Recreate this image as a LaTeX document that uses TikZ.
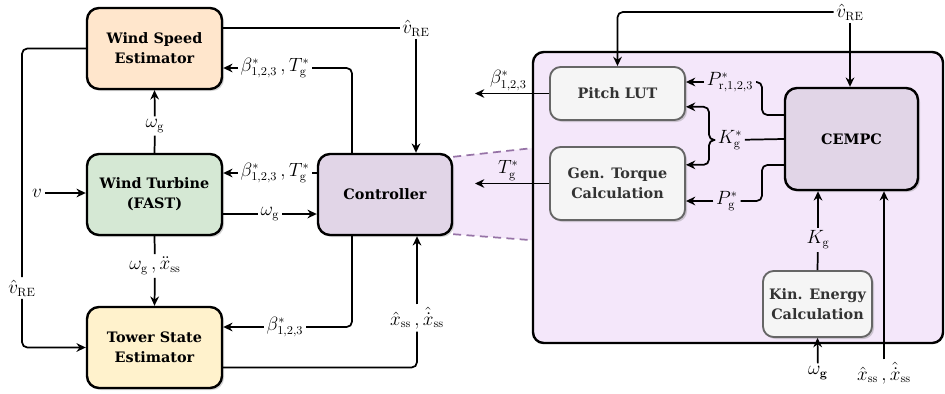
\documentclass[tikz,border=0pt]{standalone}
\usepackage[no-math]{fontspec}
\setmainfont{DejaVu Serif}
\usetikzlibrary{arrows.meta, shadows, backgrounds, positioning}

\definecolor{wseorange}{HTML}{FFE6CC}
\definecolor{wtgreen}{HTML}{D5E8D4}
\definecolor{tseyellow}{HTML}{FFF2CC}
\definecolor{ctrlpurple}{HTML}{E1D5E7}
\definecolor{panelpurple}{HTML}{F4E7FA}
\definecolor{dashpurple}{HTML}{9673A6}
\definecolor{subgray}{HTML}{F5F5F5}
\definecolor{subborder}{HTML}{666666}
\definecolor{subtext}{HTML}{333333}

\begin{document}
\begin{tikzpicture}[x=0.75pt, y=-0.75pt, >={Stealth[length=7pt, width=6.5pt]}, line width=1.3pt]
    \tikzstyle{block_style}=[rectangle, draw, rounded corners=9pt, line width=1.8pt, align=center, font=\fontsize{10.8}{15}\selectfont\bfseries, minimum width=101.25pt, minimum height=60.75pt, drop shadow={shadow xshift=1.5pt, shadow yshift=-1.5pt, opacity=0.35}]
    \tikzstyle{sub_style}=[block_style, draw=subborder, fill=subgray, text=subtext, line width=1.4pt, rounded corners=8pt]
    \tikzstyle{label_style}=[inner sep=1.5pt, font=\fontsize{13.5}{16}\selectfont]
    \tikzstyle{zoom_style}=[dashpurple, line width=1.3pt, dash pattern=on 6pt off 4pt]

    \useasboundingbox (0,0) rectangle (945,393);

    % controller panel
    \node at (738, 197.5) [rectangle, draw, rounded corners=8pt, line width=1.8pt, fill=panelpurple, minimum width=307.5pt, minimum height=218.25pt] (panel) {};

    % left blocks
    \node at (154.5, 48.5) [block_style, fill=wseorange] (wse) {Wind Speed\\Estimator};
    \node at (154.5, 194.5) [block_style, fill=wtgreen] (wt) {Wind Turbine\\(FAST)};
    \node at (154.5, 347.5) [block_style, fill=tseyellow] (tse) {Tower State\\Estimator};
    \node at (385, 194.5) [block_style, fill=ctrlpurple, minimum width=100.5pt] (ctrl) {Controller};

    % inner blocks
    \node at (617.5, 93.5) [sub_style, minimum height=39.75pt] (pitch) {Pitch LUT};
    \node at (617.5, 183.5) [sub_style, minimum height=54.75pt] (gen) {Gen. Torque\\Calculation};
    \node at (851.5, 139) [block_style, fill=ctrlpurple, minimum width=99.75pt, minimum height=76.5pt] (cempc) {CEMPC};
    \node at (817.5, 304) [sub_style, minimum width=81.75pt, minimum height=49.5pt] (kin) {Kin. Energy\\Calculation};

    % zoom from controller to panel
    \begin{scope}[on background layer]
      \fill[panelpurple] ([yshift=-3pt]ctrl.north east) -- ([yshift=37pt]panel.west) -- ([yshift=-32pt]panel.west) -- ([yshift=1.5pt]ctrl.south east) -- cycle;
      \draw[zoom_style] ([yshift=-3pt]ctrl.north east) -- ([yshift=37pt]panel.west);
      \draw[zoom_style] ([yshift=1.5pt]ctrl.south east) -- ([yshift=-32pt]panel.west);
    \end{scope}

    % labels left
    \node at (416, 28) [label_style] (vre_top) {$\hat{v}_{\mathrm{RE}}$};
    \node at (275, 68) [label_style] (bt_wse) {$\beta^{*}_{1,2,3}\,,T^{*}_{\mathrm{g}}$};
    \node at (275, 173) [label_style] (bt_wt) {$\beta^{*}_{1,2,3}\,,T^{*}_{\mathrm{g}}$};
    \node at (270, 214) [label_style] (wg_ctrl) {$\omega_{\mathrm{g}}$};
    \node at (155, 126) [label_style] (wg_up) {$\omega_{\mathrm{g}}$};
    \node at (155, 266) [label_style] (wgx) {$\omega_{\mathrm{g}}\,,\ddot{x}_{\mathrm{ss}}$};
    \node at (285, 327) [label_style] (b_tse) {$\beta^{*}_{1,2,3}$};
    \node at (417, 318) [label_style] (xss) {$\hat{x}_{\mathrm{ss}}\,,\hat{\dot{x}}_{\mathrm{ss}}$};
    \node at (22, 288) [label_style] (vre_left) {$\hat{v}_{\mathrm{RE}}$};
    \node at (37, 193) [label_style] (v_in) {$v$};

    % labels right
    \node at (850, 12) [label_style] (vre_r) {$\hat{v}_{\mathrm{RE}}$};
    \node at (730, 82) [label_style] (lbl_pr) {$P^{*}_{\mathrm{r},1,2,3}$};
    \node at (730, 140) [label_style] (lbl_kgs) {$K^{*}_{\mathrm{g}}$};
    \node at (727, 201) [label_style] (lbl_pg) {$P^{*}_{\mathrm{g}}$};
    \node at (818, 240) [label_style] (lbl_kg) {$K_{\mathrm{g}}$};
    \node at (818, 373) [label_style] (lbl_wgb) {$\omega_{\mathbf{g}}$};
    \node at (884, 373) [label_style] (lbl_xssb) {$\hat{x}_{\mathrm{ss}}\,,\hat{\dot{x}}_{\mathrm{ss}}$};

    \coordinate (ctrl_nl) at ([xshift=-24.75pt]ctrl.north);
    \coordinate (ctrl_sl) at ([xshift=-24.75pt]ctrl.south);
    \coordinate (out_x) at (475, 0);
    \coordinate (brace_x) at (709, 0);
    \coordinate (bus_x) at (762, 0);

    % connect: left loop
    \draw (wse.east |- vre_top) -- (vre_top);
    \path[->] (vre_top) edge (vre_top |- ctrl.north);
    \draw[rounded corners=4pt] (ctrl_nl) |- (bt_wse);
    \path[->] (bt_wse) edge (bt_wse -| wse.east);
    \draw (ctrl.west |- bt_wt) -- (bt_wt);
    \path[->] (bt_wt) edge (bt_wt -| wt.east);
    \draw (wt.east |- wg_ctrl) -- (wg_ctrl);
    \path[->] (wg_ctrl) edge (wg_ctrl -| ctrl.west);
    \draw (wt.north) -- (wg_up);
    \path[->] (wg_up) edge (wse.south);
    \draw (wt.south) -- (wgx);
    \path[->] (wgx) edge (tse.north);
    \draw[rounded corners=4pt] (ctrl_sl) |- (b_tse);
    \path[->] (b_tse) edge (b_tse -| tse.east);
    \draw[rounded corners=4pt] ([yshift=-15pt]tse.east) -| (xss);
    \path[->] (xss) edge (xss |- ctrl.south);
    \draw[rounded corners=4pt] (wse.west) -| (vre_left);
    \draw[->, rounded corners=4pt] (vre_left) |- (tse.west);
    \path[->] (v_in) edge (v_in -| wt.west);

    % connect: panel
    \draw[->] (pitch.west) -- (pitch.west -| out_x) node[label_style, above, pos=0.55] (lbl_bout) {$\beta^{*}_{1,2,3}$};
    \draw[->] (gen.west) -- (gen.west -| out_x) node[label_style, above, pos=0.55] (lbl_tout) {$T^{*}_{\mathrm{g}}$};
    \draw[->, rounded corners=4pt] (vre_r) -| (pitch.north);
    \path[->] (vre_r) edge (vre_r |- cempc.north);
    \draw[rounded corners=4pt] ([yshift=18pt]cempc.west) -| (bus_x |- lbl_pr) -- (lbl_pr);
    \path[->] (lbl_pr) edge (lbl_pr -| pitch.east);
    \draw (cempc.west) -- (lbl_kgs);
    \draw[->, rounded corners=4pt] (lbl_kgs.west) -- (brace_x |- lbl_kgs) |- ([yshift=-10pt]pitch.east);
    \draw[->, rounded corners=4pt] (lbl_kgs.west) -- (brace_x |- lbl_kgs) |- ([yshift=14pt]gen.east);
    \draw[rounded corners=4pt] ([yshift=-19.5pt]cempc.west) -| (bus_x |- lbl_pg) -- (lbl_pg);
    \path[->] (lbl_pg) edge (lbl_pg -| gen.east);
    \draw (kin.north) -- (lbl_kg);
    \path[->] (lbl_kg) edge (lbl_kg |- cempc.south);
    \path[->] (lbl_wgb) edge (kin.south);
    \path[->] (lbl_xssb) edge (lbl_xssb |- cempc.south);
\end{tikzpicture}
\end{document}
